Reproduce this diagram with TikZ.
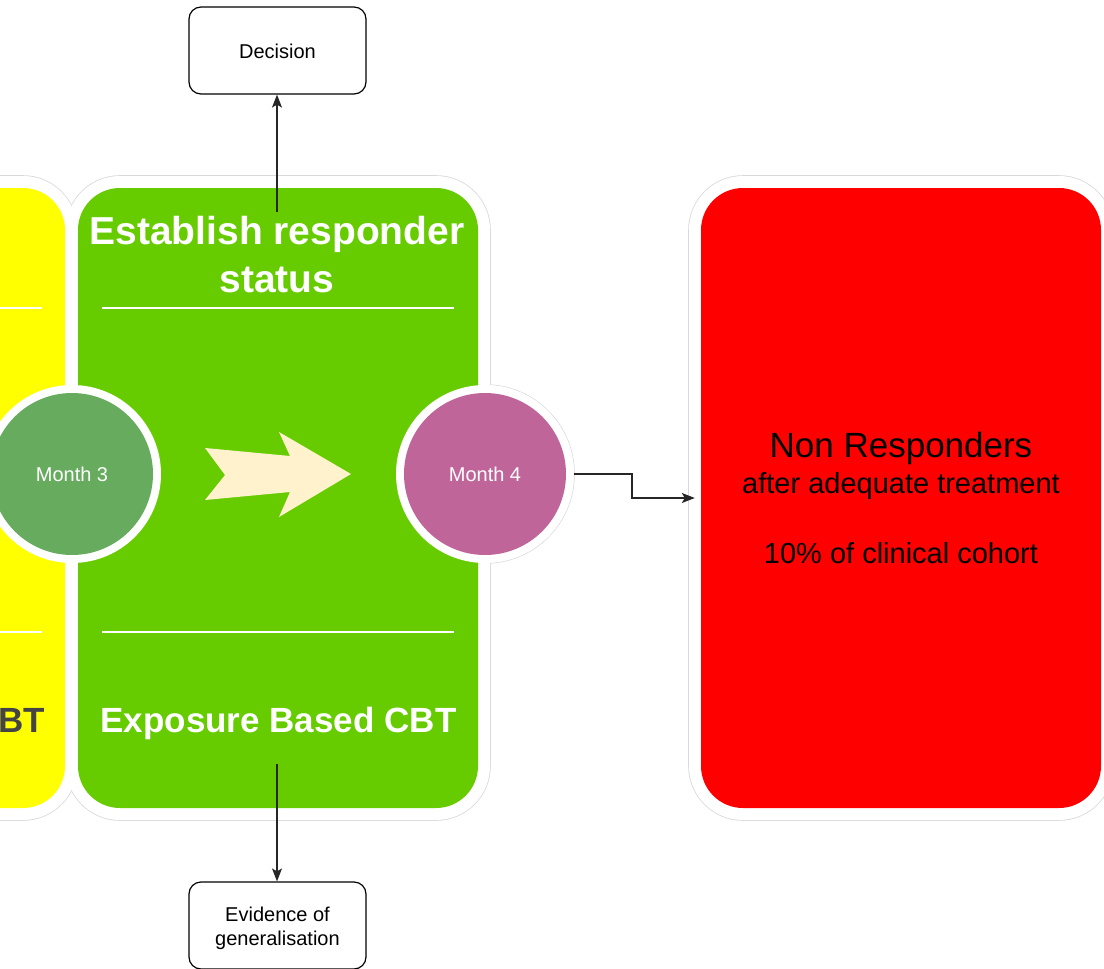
\documentclass[tikz,border=0pt]{standalone}
\usepackage{fontspec}
\setmainfont{Liberation Sans}
\usetikzlibrary{arrows.meta}
\definecolor{cyellow}{HTML}{FFFF00}
\definecolor{cgreen}{HTML}{66CC00}
\definecolor{cred}{HTML}{FF0000}
\definecolor{cmthree}{HTML}{67AB5F}
\definecolor{cmfour}{HTML}{C0659A}
\definecolor{carrow}{HTML}{FFF2CC}
\definecolor{chalo}{HTML}{D9D9D9}
\definecolor{cbt}{HTML}{444444}
\tikzset{
  halo/.style={draw=chalo, line width=1.6pt, fill=white, inner sep=0pt},
  haloin/.style={fill=white, inner sep=0pt},
  panelout/.style={rectangle, rounded corners=54pt, minimum width=424pt, minimum height=644pt, inner sep=0pt},
  panelfill/.style={rectangle, rounded corners=42pt, minimum width=400pt, minimum height=620pt, inner sep=0pt},
  ringout/.style={circle, minimum size=178pt, inner sep=0pt},
  disc/.style={circle, minimum size=162pt, inner sep=0pt},
  sepline/.style={draw=white, line width=2.4pt},
  bigtitle/.style={text=white, font=\bfseries\fontsize{39}{47}\selectfont, anchor=base, inner sep=0pt},
  subtitle/.style={font=\bfseries\fontsize{35}{42}\selectfont, anchor=base, inner sep=0pt},
  monthtxt/.style={text=white, font=\fontsize{20}{24}\selectfont, anchor=base, inner sep=0pt},
  redtxt/.style={text=black, anchor=base, inner sep=0pt},
  smallbox/.style={draw=black, line width=1.2pt, rounded corners=12pt, minimum width=177pt, minimum height=87pt, fill=white, inner sep=0pt},
  boxtxt/.style={font=\fontsize{20}{24}\selectfont, anchor=base, inner sep=0pt},
  conn/.style={draw=black!85, line width=1.3pt, -{Stealth[length=13pt,width=10pt,inset=3pt]}},
}
\begin{document}
\begin{tikzpicture}[x=1pt,y=-1pt]
\useasboundingbox (0,0) rectangle (1104,969);
\clip (0,0) rectangle (1104,969);
\fill[white] (0,0) rectangle (1104,969);
% halo outlines
\node[panelout, halo, minimum width=177pt] (yhalo) at (-11.5,498) {};
\node[panelout, halo] (ghalo) at (278,498) {};
\node[panelout, halo] (rhalo) at (901,498) {};
\node[ringout, halo] (m4halo) at (485,474) {};
% white cover (union)
\node[panelout, haloin, minimum width=177pt] (ywhite) at (-11.5,498) {};
\node[panelout, haloin] (gwhite) at (278,498) {};
\node[panelout, haloin] (rout) at (901,498) {};
\node[ringout, haloin] (m4white) at (485,474) {};
% coloured panels
\node[panelfill, fill=cyellow, minimum width=153pt] (yellow) at (-11.5,498) {};
\node[panelfill, fill=cgreen] (green) at (278,498) {};
\node[panelfill, fill=cred] (red) at (901,498) {};
% separator lines
\draw[sepline] (0,308) -- (42,308);
\draw[sepline] (0,632) -- (42,632);
\draw[sepline] (102,308) -- (454,308);
\draw[sepline] (102,632) -- (454,632);
% panel texts
\node[bigtitle] (est1) at (277,244) {Establish responder};
\node[bigtitle] (est2) at (277,292) {status};
\node[subtitle, text=white] (expo) at (278.5,732) {Exposure Based CBT};
\node[subtitle, text=cbt, anchor=base east] (bt) at (45,732) {BT};
% month circles
\node[ringout, fill=white] (m3ring) at (72,474) {};
\node[disc, fill=cmthree] (m3) at (72,474) {};
\node[monthtxt] (m3t) at (72,481) {Month 3};
\node[ringout, fill=white] (m4ring) at (485,474) {};
\node[disc, fill=cmfour] (m4) at (485,474) {};
\node[monthtxt] (m4t) at (485,481) {Month 4};
% chevron arrow
\fill[carrow] (205,448) -- (290,456) -- (279,432) -- (351,474) -- (279,517) -- (290,492) -- (205,500) -- (225,475) -- cycle;
% red texts
\node[redtxt, font=\fontsize{35}{42}\selectfont] (nr1) at (901,457) {Non Responders};
\node[redtxt, font=\fontsize{29}{35}\selectfont] (nr2) at (901,493) {after adequate treatment};
\node[redtxt, font=\fontsize{29}{35}\selectfont] (nr3) at (901,563) {10\% of clinical cohort};
% small boxes
\node[smallbox] (decision) at (277.5,50.5) {};
\node[boxtxt] (dect) at (277.5,58) {Decision};
\node[smallbox] (evidence) at (277.5,925.5) {};
\node[boxtxt] (evt1) at (277.5,921) {Evidence of};
\node[boxtxt] (evt2) at (277.5,945) {generalisation};
% connectors
\coordinate (topstart) at (277,212);
\coordinate (botstart) at (277,764);
\draw[conn] (topstart) -- (decision.south -| topstart);
\draw[conn] (botstart) -- (evidence.north -| botstart);
\coordinate (e1) at (632,474);
\coordinate (e2) at (632,498);
\draw[conn, shorten >=6pt] (m4ring.east) -- (e1) -- (e2) -- (red.west |- e2);
\end{tikzpicture}
\end{document}
